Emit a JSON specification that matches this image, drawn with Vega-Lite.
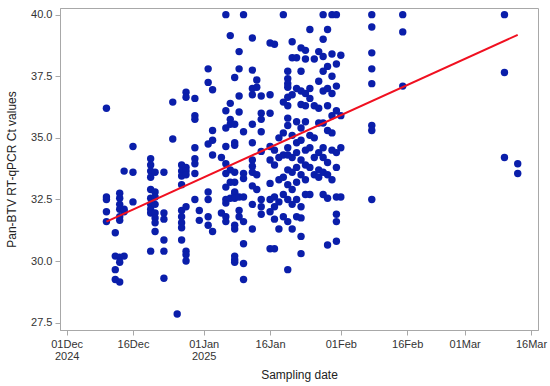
{
  "$schema": "https://vega.github.io/schema/vega-lite/v6.json",
  "width": 478,
  "height": 322,
  "autosize": {"type": "none"},
  "padding": {"left": 60, "top": 8, "right": 12, "bottom": 56},
  "config": {
    "view": {"stroke": "#a8a8a8", "strokeWidth": 1},
    "axis": {
      "grid": false,
      "domainColor": "#a8a8a8",
      "tickColor": "#a8a8a8",
      "labelFont": "Liberation Sans",
      "titleFont": "Liberation Sans",
      "labelFontSize": 11,
      "titleFontSize": 12,
      "labelColor": "#333333",
      "titleColor": "#222222",
      "titleFontWeight": "normal",
      "tickSize": 5,
      "labelPadding": 3
    }
  },
  "datasets": {
    "pts": [
      {"date": "2024-12-10", "ct": 36.2}, {"date": "2024-12-10", "ct": 32.6}, {"date": "2024-12-10", "ct": 32.5}, {"date": "2024-12-10", "ct": 32.0}, {"date": "2024-12-10", "ct": 31.6},
      {"date": "2024-12-12", "ct": 31.15}, {"date": "2024-12-12", "ct": 30.2}, {"date": "2024-12-12", "ct": 29.65}, {"date": "2024-12-12", "ct": 29.25},
      {"date": "2024-12-13", "ct": 32.75}, {"date": "2024-12-13", "ct": 32.55}, {"date": "2024-12-13", "ct": 32.3}, {"date": "2024-12-13", "ct": 32.1}, {"date": "2024-12-13", "ct": 31.8}, {"date": "2024-12-13", "ct": 31.65}, {"date": "2024-12-13", "ct": 30.15}, {"date": "2024-12-13", "ct": 29.95}, {"date": "2024-12-13", "ct": 29.15},
      {"date": "2024-12-14", "ct": 33.65}, {"date": "2024-12-14", "ct": 32.1}, {"date": "2024-12-14", "ct": 32.0}, {"date": "2024-12-14", "ct": 30.2},
      {"date": "2024-12-16", "ct": 34.65}, {"date": "2024-12-16", "ct": 33.6}, {"date": "2024-12-16", "ct": 32.4},
      {"date": "2024-12-20", "ct": 34.15}, {"date": "2024-12-20", "ct": 33.9}, {"date": "2024-12-20", "ct": 33.65}, {"date": "2024-12-20", "ct": 33.4}, {"date": "2024-12-20", "ct": 32.9}, {"date": "2024-12-20", "ct": 32.55}, {"date": "2024-12-20", "ct": 32.3}, {"date": "2024-12-20", "ct": 32.1}, {"date": "2024-12-20", "ct": 31.95}, {"date": "2024-12-20", "ct": 30.4},
      {"date": "2024-12-21", "ct": 33.6}, {"date": "2024-12-21", "ct": 32.8}, {"date": "2024-12-21", "ct": 32.6}, {"date": "2024-12-21", "ct": 32.3}, {"date": "2024-12-21", "ct": 31.95}, {"date": "2024-12-21", "ct": 31.75}, {"date": "2024-12-21", "ct": 31.55}, {"date": "2024-12-21", "ct": 31.2},
      {"date": "2024-12-23", "ct": 33.6}, {"date": "2024-12-23", "ct": 31.95}, {"date": "2024-12-23", "ct": 31.7}, {"date": "2024-12-23", "ct": 30.85}, {"date": "2024-12-23", "ct": 30.4}, {"date": "2024-12-23", "ct": 29.3},
      {"date": "2024-12-25", "ct": 36.45}, {"date": "2024-12-25", "ct": 34.95},
      {"date": "2024-12-26", "ct": 27.85},
      {"date": "2024-12-27", "ct": 33.9}, {"date": "2024-12-27", "ct": 33.65}, {"date": "2024-12-27", "ct": 33.45}, {"date": "2024-12-27", "ct": 33.1}, {"date": "2024-12-27", "ct": 32.05}, {"date": "2024-12-27", "ct": 31.8}, {"date": "2024-12-27", "ct": 31.55}, {"date": "2024-12-27", "ct": 31.35}, {"date": "2024-12-27", "ct": 30.85},
      {"date": "2024-12-28", "ct": 36.85}, {"date": "2024-12-28", "ct": 36.65}, {"date": "2024-12-28", "ct": 33.8}, {"date": "2024-12-28", "ct": 33.65}, {"date": "2024-12-28", "ct": 33.5}, {"date": "2024-12-28", "ct": 32.2}, {"date": "2024-12-28", "ct": 30.4}, {"date": "2024-12-28", "ct": 30.25}, {"date": "2024-12-28", "ct": 30.0},
      {"date": "2024-12-30", "ct": 36.6}, {"date": "2024-12-30", "ct": 35.9}, {"date": "2024-12-30", "ct": 35.75}, {"date": "2024-12-30", "ct": 34.6}, {"date": "2024-12-30", "ct": 34.15}, {"date": "2024-12-30", "ct": 33.95}, {"date": "2024-12-30", "ct": 33.55}, {"date": "2024-12-30", "ct": 32.5},
      {"date": "2024-12-31", "ct": 32.05}, {"date": "2024-12-31", "ct": 31.65},
      {"date": "2025-01-02", "ct": 37.8}, {"date": "2025-01-02", "ct": 37.25}, {"date": "2025-01-02", "ct": 34.75}, {"date": "2025-01-02", "ct": 32.8}, {"date": "2025-01-02", "ct": 32.5}, {"date": "2025-01-02", "ct": 31.8}, {"date": "2025-01-02", "ct": 31.45},
      {"date": "2025-01-03", "ct": 36.95}, {"date": "2025-01-03", "ct": 35.3}, {"date": "2025-01-03", "ct": 34.9}, {"date": "2025-01-03", "ct": 34.3}, {"date": "2025-01-03", "ct": 31.2},
      {"date": "2025-01-05", "ct": 34.2}, {"date": "2025-01-05", "ct": 31.95},
      {"date": "2025-01-06", "ct": 40.0}, {"date": "2025-01-06", "ct": 36.1}, {"date": "2025-01-06", "ct": 35.4}, {"date": "2025-01-06", "ct": 34.65}, {"date": "2025-01-06", "ct": 33.95}, {"date": "2025-01-06", "ct": 33.55}, {"date": "2025-01-06", "ct": 33.0}, {"date": "2025-01-06", "ct": 32.5}, {"date": "2025-01-06", "ct": 32.35}, {"date": "2025-01-06", "ct": 31.8}, {"date": "2025-01-06", "ct": 31.6},
      {"date": "2025-01-07", "ct": 39.15}, {"date": "2025-01-07", "ct": 36.4}, {"date": "2025-01-07", "ct": 35.75}, {"date": "2025-01-07", "ct": 35.55}, {"date": "2025-01-07", "ct": 33.7}, {"date": "2025-01-07", "ct": 33.2}, {"date": "2025-01-07", "ct": 32.55},
      {"date": "2025-01-08", "ct": 37.45}, {"date": "2025-01-08", "ct": 35.55}, {"date": "2025-01-08", "ct": 34.8}, {"date": "2025-01-08", "ct": 34.7}, {"date": "2025-01-08", "ct": 33.6}, {"date": "2025-01-08", "ct": 33.2}, {"date": "2025-01-08", "ct": 32.8}, {"date": "2025-01-08", "ct": 32.75}, {"date": "2025-01-08", "ct": 32.55}, {"date": "2025-01-08", "ct": 31.45}, {"date": "2025-01-08", "ct": 31.3}, {"date": "2025-01-08", "ct": 30.2}, {"date": "2025-01-08", "ct": 30.05}, {"date": "2025-01-08", "ct": 29.95},
      {"date": "2025-01-09", "ct": 38.5}, {"date": "2025-01-09", "ct": 37.8}, {"date": "2025-01-09", "ct": 36.7}, {"date": "2025-01-09", "ct": 36.05}, {"date": "2025-01-09", "ct": 32.6}, {"date": "2025-01-09", "ct": 32.05}, {"date": "2025-01-09", "ct": 31.8},
      {"date": "2025-01-10", "ct": 40.0}, {"date": "2025-01-10", "ct": 35.25}, {"date": "2025-01-10", "ct": 33.55}, {"date": "2025-01-10", "ct": 33.35}, {"date": "2025-01-10", "ct": 32.6}, {"date": "2025-01-10", "ct": 31.6}, {"date": "2025-01-10", "ct": 30.7}, {"date": "2025-01-10", "ct": 29.9}, {"date": "2025-01-10", "ct": 29.25},
      {"date": "2025-01-12", "ct": 39.05}, {"date": "2025-01-12", "ct": 37.75}, {"date": "2025-01-12", "ct": 37.0}, {"date": "2025-01-12", "ct": 36.75}, {"date": "2025-01-12", "ct": 35.55}, {"date": "2025-01-12", "ct": 34.8}, {"date": "2025-01-12", "ct": 34.1}, {"date": "2025-01-12", "ct": 33.85}, {"date": "2025-01-12", "ct": 33.6}, {"date": "2025-01-12", "ct": 33.05}, {"date": "2025-01-12", "ct": 32.3}, {"date": "2025-01-12", "ct": 31.3},
      {"date": "2025-01-13", "ct": 37.35}, {"date": "2025-01-13", "ct": 37.05}, {"date": "2025-01-13", "ct": 33.5}, {"date": "2025-01-13", "ct": 32.9},
      {"date": "2025-01-14", "ct": 36.7}, {"date": "2025-01-14", "ct": 36.0}, {"date": "2025-01-14", "ct": 35.75}, {"date": "2025-01-14", "ct": 35.25}, {"date": "2025-01-14", "ct": 34.45}, {"date": "2025-01-14", "ct": 32.5}, {"date": "2025-01-14", "ct": 32.2}, {"date": "2025-01-14", "ct": 31.9},
      {"date": "2025-01-16", "ct": 38.85}, {"date": "2025-01-16", "ct": 36.75}, {"date": "2025-01-16", "ct": 36.0}, {"date": "2025-01-16", "ct": 34.65}, {"date": "2025-01-16", "ct": 34.1}, {"date": "2025-01-16", "ct": 33.15}, {"date": "2025-01-16", "ct": 32.5}, {"date": "2025-01-16", "ct": 32.0}, {"date": "2025-01-16", "ct": 30.5},
      {"date": "2025-01-17", "ct": 38.8}, {"date": "2025-01-17", "ct": 34.5}, {"date": "2025-01-17", "ct": 33.9}, {"date": "2025-01-17", "ct": 32.6}, {"date": "2025-01-17", "ct": 32.2}, {"date": "2025-01-17", "ct": 31.7}, {"date": "2025-01-17", "ct": 30.5},
      {"date": "2025-01-18", "ct": 35.0}, {"date": "2025-01-18", "ct": 34.2}, {"date": "2025-01-18", "ct": 33.3}, {"date": "2025-01-18", "ct": 32.4}, {"date": "2025-01-18", "ct": 31.3},
      {"date": "2025-01-19", "ct": 40.0}, {"date": "2025-01-19", "ct": 36.45}, {"date": "2025-01-19", "ct": 35.2}, {"date": "2025-01-19", "ct": 34.3}, {"date": "2025-01-19", "ct": 33.4}, {"date": "2025-01-19", "ct": 32.7}, {"date": "2025-01-19", "ct": 31.8},
      {"date": "2025-01-20", "ct": 37.7}, {"date": "2025-01-20", "ct": 37.4}, {"date": "2025-01-20", "ct": 37.2}, {"date": "2025-01-20", "ct": 37.05}, {"date": "2025-01-20", "ct": 36.65}, {"date": "2025-01-20", "ct": 36.3}, {"date": "2025-01-20", "ct": 35.8}, {"date": "2025-01-20", "ct": 35.5}, {"date": "2025-01-20", "ct": 34.6}, {"date": "2025-01-20", "ct": 34.3}, {"date": "2025-01-20", "ct": 33.7}, {"date": "2025-01-20", "ct": 33.1}, {"date": "2025-01-20", "ct": 32.5}, {"date": "2025-01-20", "ct": 31.6}, {"date": "2025-01-20", "ct": 29.65},
      {"date": "2025-01-21", "ct": 38.9}, {"date": "2025-01-21", "ct": 38.25}, {"date": "2025-01-21", "ct": 36.75}, {"date": "2025-01-21", "ct": 35.1}, {"date": "2025-01-21", "ct": 34.2}, {"date": "2025-01-21", "ct": 33.6}, {"date": "2025-01-21", "ct": 32.9}, {"date": "2025-01-21", "ct": 32.3}, {"date": "2025-01-21", "ct": 31.3},
      {"date": "2025-01-22", "ct": 38.25}, {"date": "2025-01-22", "ct": 37.0}, {"date": "2025-01-22", "ct": 35.65}, {"date": "2025-01-22", "ct": 34.8}, {"date": "2025-01-22", "ct": 34.4}, {"date": "2025-01-22", "ct": 33.8}, {"date": "2025-01-22", "ct": 33.2}, {"date": "2025-01-22", "ct": 32.5}, {"date": "2025-01-22", "ct": 31.8},
      {"date": "2025-01-23", "ct": 38.65}, {"date": "2025-01-23", "ct": 37.7}, {"date": "2025-01-23", "ct": 36.9}, {"date": "2025-01-23", "ct": 36.35}, {"date": "2025-01-23", "ct": 35.4}, {"date": "2025-01-23", "ct": 34.9}, {"date": "2025-01-23", "ct": 34.1}, {"date": "2025-01-23", "ct": 33.5}, {"date": "2025-01-23", "ct": 32.2}, {"date": "2025-01-23", "ct": 31.75}, {"date": "2025-01-23", "ct": 31.0}, {"date": "2025-01-23", "ct": 30.3},
      {"date": "2025-01-24", "ct": 38.55}, {"date": "2025-01-24", "ct": 38.2}, {"date": "2025-01-24", "ct": 36.8}, {"date": "2025-01-24", "ct": 36.3}, {"date": "2025-01-24", "ct": 35.65}, {"date": "2025-01-24", "ct": 34.5}, {"date": "2025-01-24", "ct": 33.9}, {"date": "2025-01-24", "ct": 33.3}, {"date": "2025-01-24", "ct": 32.7},
      {"date": "2025-01-25", "ct": 39.4}, {"date": "2025-01-25", "ct": 37.0}, {"date": "2025-01-25", "ct": 36.6}, {"date": "2025-01-25", "ct": 35.1}, {"date": "2025-01-25", "ct": 34.6}, {"date": "2025-01-25", "ct": 33.8}, {"date": "2025-01-25", "ct": 32.7},
      {"date": "2025-01-26", "ct": 38.2}, {"date": "2025-01-26", "ct": 36.3}, {"date": "2025-01-26", "ct": 35.0}, {"date": "2025-01-26", "ct": 34.2}, {"date": "2025-01-26", "ct": 33.5},
      {"date": "2025-01-27", "ct": 38.5}, {"date": "2025-01-27", "ct": 37.3}, {"date": "2025-01-27", "ct": 36.2}, {"date": "2025-01-27", "ct": 35.6}, {"date": "2025-01-27", "ct": 34.4}, {"date": "2025-01-27", "ct": 33.7}, {"date": "2025-01-27", "ct": 33.4},
      {"date": "2025-01-28", "ct": 40.0}, {"date": "2025-01-28", "ct": 39.0}, {"date": "2025-01-28", "ct": 38.3}, {"date": "2025-01-28", "ct": 37.7}, {"date": "2025-01-28", "ct": 36.9}, {"date": "2025-01-28", "ct": 35.6}, {"date": "2025-01-28", "ct": 34.6}, {"date": "2025-01-28", "ct": 34.2}, {"date": "2025-01-28", "ct": 33.6}, {"date": "2025-01-28", "ct": 32.7},
      {"date": "2025-01-29", "ct": 39.4}, {"date": "2025-01-29", "ct": 37.9}, {"date": "2025-01-29", "ct": 37.0}, {"date": "2025-01-29", "ct": 36.3}, {"date": "2025-01-29", "ct": 35.3}, {"date": "2025-01-29", "ct": 34.0}, {"date": "2025-01-29", "ct": 33.5}, {"date": "2025-01-29", "ct": 32.55}, {"date": "2025-01-29", "ct": 30.65},
      {"date": "2025-01-30", "ct": 40.0}, {"date": "2025-01-30", "ct": 38.4}, {"date": "2025-01-30", "ct": 37.5}, {"date": "2025-01-30", "ct": 36.8}, {"date": "2025-01-30", "ct": 35.9}, {"date": "2025-01-30", "ct": 35.2}, {"date": "2025-01-30", "ct": 34.5}, {"date": "2025-01-30", "ct": 33.3},
      {"date": "2025-01-31", "ct": 40.0}, {"date": "2025-01-31", "ct": 38.0}, {"date": "2025-01-31", "ct": 37.1}, {"date": "2025-01-31", "ct": 36.1}, {"date": "2025-01-31", "ct": 34.4}, {"date": "2025-01-31", "ct": 33.8}, {"date": "2025-01-31", "ct": 32.6}, {"date": "2025-01-31", "ct": 31.9}, {"date": "2025-01-31", "ct": 31.6}, {"date": "2025-01-31", "ct": 30.8},
      {"date": "2025-02-01", "ct": 38.35}, {"date": "2025-02-01", "ct": 35.9}, {"date": "2025-02-01", "ct": 34.6}, {"date": "2025-02-01", "ct": 32.6},
      {"date": "2025-02-08", "ct": 40.0}, {"date": "2025-02-08", "ct": 39.5}, {"date": "2025-02-08", "ct": 38.45}, {"date": "2025-02-08", "ct": 37.8}, {"date": "2025-02-08", "ct": 37.2}, {"date": "2025-02-08", "ct": 35.5}, {"date": "2025-02-08", "ct": 35.3}, {"date": "2025-02-08", "ct": 32.5},
      {"date": "2025-02-15", "ct": 40.0}, {"date": "2025-02-15", "ct": 39.3}, {"date": "2025-02-15", "ct": 37.1},
      {"date": "2025-03-10", "ct": 40.0}, {"date": "2025-03-10", "ct": 37.65}, {"date": "2025-03-10", "ct": 34.2},
      {"date": "2025-03-13", "ct": 33.95}, {"date": "2025-03-13", "ct": 33.55}
    ],
    "fit": [
      {"date": "2024-12-10", "ct": 31.6},
      {"date": "2025-03-13", "ct": 39.18}
    ]
  },
  "layer": [
    {
      "data": {"name": "pts"},
      "mark": {"type": "circle", "size": 55, "opacity": 1, "color": "#0A1EAA"},
      "encoding": {
        "x": {
          "field": "date",
          "type": "temporal",
          "title": "Sampling date",
          "scale": {
            "type": "utc",
            "domain": [
              {"year": 2024, "month": 11, "date": 29, "hours": 12, "utc": true},
              {"year": 2025, "month": 3, "date": 17, "hours": 14, "utc": true}
            ],
            "nice": false
          },
          "axis": {
            "values": [
              {"year": 2024, "month": 12, "date": 1, "utc": true},
              {"year": 2024, "month": 12, "date": 16, "utc": true},
              {"year": 2025, "month": 1, "date": 1, "utc": true},
              {"year": 2025, "month": 1, "date": 16, "utc": true},
              {"year": 2025, "month": 2, "date": 1, "utc": true},
              {"year": 2025, "month": 2, "date": 16, "utc": true},
              {"year": 2025, "month": 3, "date": 1, "utc": true},
              {"year": 2025, "month": 3, "date": 16, "utc": true}
            ],
            "labelExpr": "(utcdate(datum.value) == 1 && (utcmonth(datum.value) == 11 || utcmonth(datum.value) == 0)) ? [utcFormat(datum.value, '%d%b'), utcFormat(datum.value, '%Y')] : utcFormat(datum.value, '%d%b')",
            "labelLineHeight": 12,
            "titlePadding": 8
          }
        },
        "y": {
          "field": "ct",
          "type": "quantitative",
          "title": "Pan-BTV RT-qPCR Ct values",
          "scale": {"domain": [27.2, 40.27], "nice": false, "zero": false},
          "axis": {"values": [27.5, 30, 32.5, 35, 37.5, 40], "format": ".1f", "titlePadding": 12}
        }
      }
    },
    {
      "data": {"name": "fit"},
      "mark": {"type": "line", "color": "#F01020", "strokeWidth": 2},
      "encoding": {
        "x": {"field": "date", "type": "temporal"},
        "y": {"field": "ct", "type": "quantitative"}
      }
    }
  ]
}
